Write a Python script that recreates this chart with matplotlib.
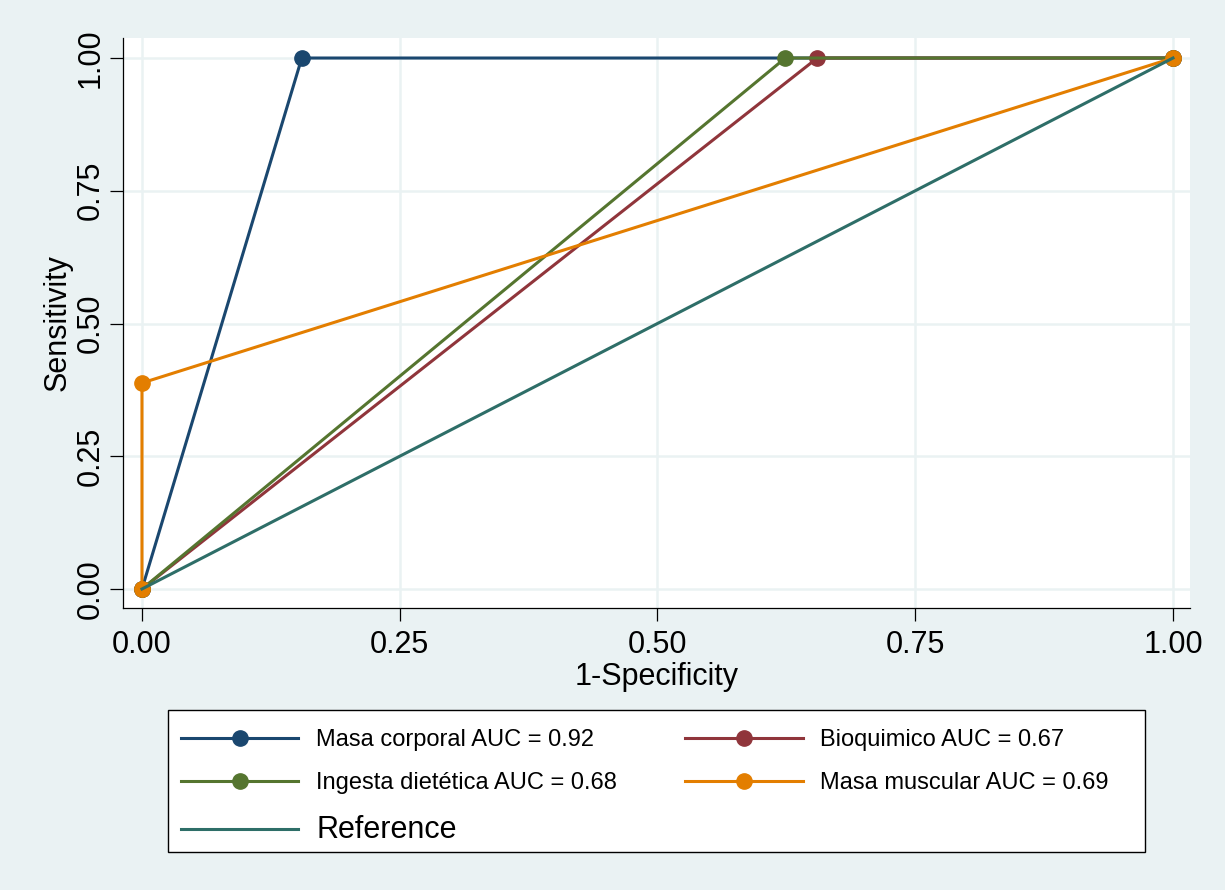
import matplotlib.pyplot as plt
from matplotlib.lines import Line2D
from matplotlib.patches import Rectangle

plt.rcParams['font.family'] = ['Liberation Sans', 'DejaVu Sans']

# ROC points (1-specificity, sensitivity)
names = ["Masa corporal", "Bioquimico", "Ingesta dietética", "Masa muscular"]
auc = [0.92, 0.67, 0.68, 0.69]
fpr = [[0, 0.155, 1], [0, 0.655, 1], [0, 0.624, 1], [0, 0, 1]]
tpr = [[0, 1, 1], [0, 1, 1], [0, 1, 1], [0, 0.388, 1]]
colors = ["#1a476f", "#90353b", "#55752f", "#e37e00"]
ref_x = [0, 1]
ref_y = [0, 1]
ticks = [0, 0.25, 0.5, 0.75, 1.0]
ticklabels = ["0.00", "0.25", "0.50", "0.75", "1.00"]

bg = "#eaf2f3"
W, H = 1225, 890
fig = plt.figure(figsize=(W / 100, H / 100), dpi=100, facecolor=bg)
ax = fig.add_axes([123 / W, 1 - 608 / H, (1190 - 123) / W, (608 - 38) / H])

for x, y, c in zip(fpr, tpr, colors):
    ax.plot(x, y, color=c, lw=2.2, marker="o", ms=11, zorder=3)
ax.plot(ref_x, ref_y, color="#2e6e68", lw=2.2, zorder=4)

ax.set_xlim(-0.0184, 1.0165)
ax.set_ylim(-0.0358, 1.0377)
ax.set_xticks(ticks)
ax.set_xticklabels(ticklabels)
ax.set_yticks(ticks)
ax.set_yticklabels(ticklabels, rotation=90, va="center")
ax.grid(True, color=bg, lw=1.8, zorder=0)
ax.tick_params(direction="out", length=9.5, width=0.9, labelsize=22)
ax.tick_params(axis="x", pad=6)
ax.tick_params(axis="y", pad=3)
for s in ["top", "right"]:
    ax.spines[s].set_visible(False)
for s in ["left", "bottom"]:
    ax.spines[s].set_linewidth(0.9)
ax.set_xlabel("1-Specificity", fontsize=22, labelpad=2)
ax.set_ylabel("Sensitivity", fontsize=22, labelpad=2)

handles = []
labels = []
for i in [0, 2, 1, 3]:
    handles.append(Line2D([], [], color=colors[i], lw=2.2, marker="o", ms=11))
    labels.append(f"{names[i]} AUC = {auc[i]:.2f}")
handles.insert(2, Line2D([], [], color="#2e6e68", lw=2.2))
labels.insert(2, "Reference")

# legend frame
fig.patches.append(Rectangle((168 / W, 1 - 852 / H), (1145 - 168) / W, (852 - 710) / H,
                             transform=fig.transFigure, facecolor="white",
                             edgecolor="black", lw=1.0, zorder=1))
leg = fig.legend(handles, labels, loc="upper left",
                 bbox_to_anchor=(181 / W, 1 - 729 / H),
                 ncol=2, fontsize=17, handlelength=4.96, handletextpad=0.76,
                 columnspacing=2.9, labelspacing=0.88, borderpad=0.0,
                 borderaxespad=0.0, frameon=False)
leg.set_zorder(2)
leg.get_texts()[2].set_fontsize(22)

fig.savefig("out.png", dpi=100, facecolor=bg)
